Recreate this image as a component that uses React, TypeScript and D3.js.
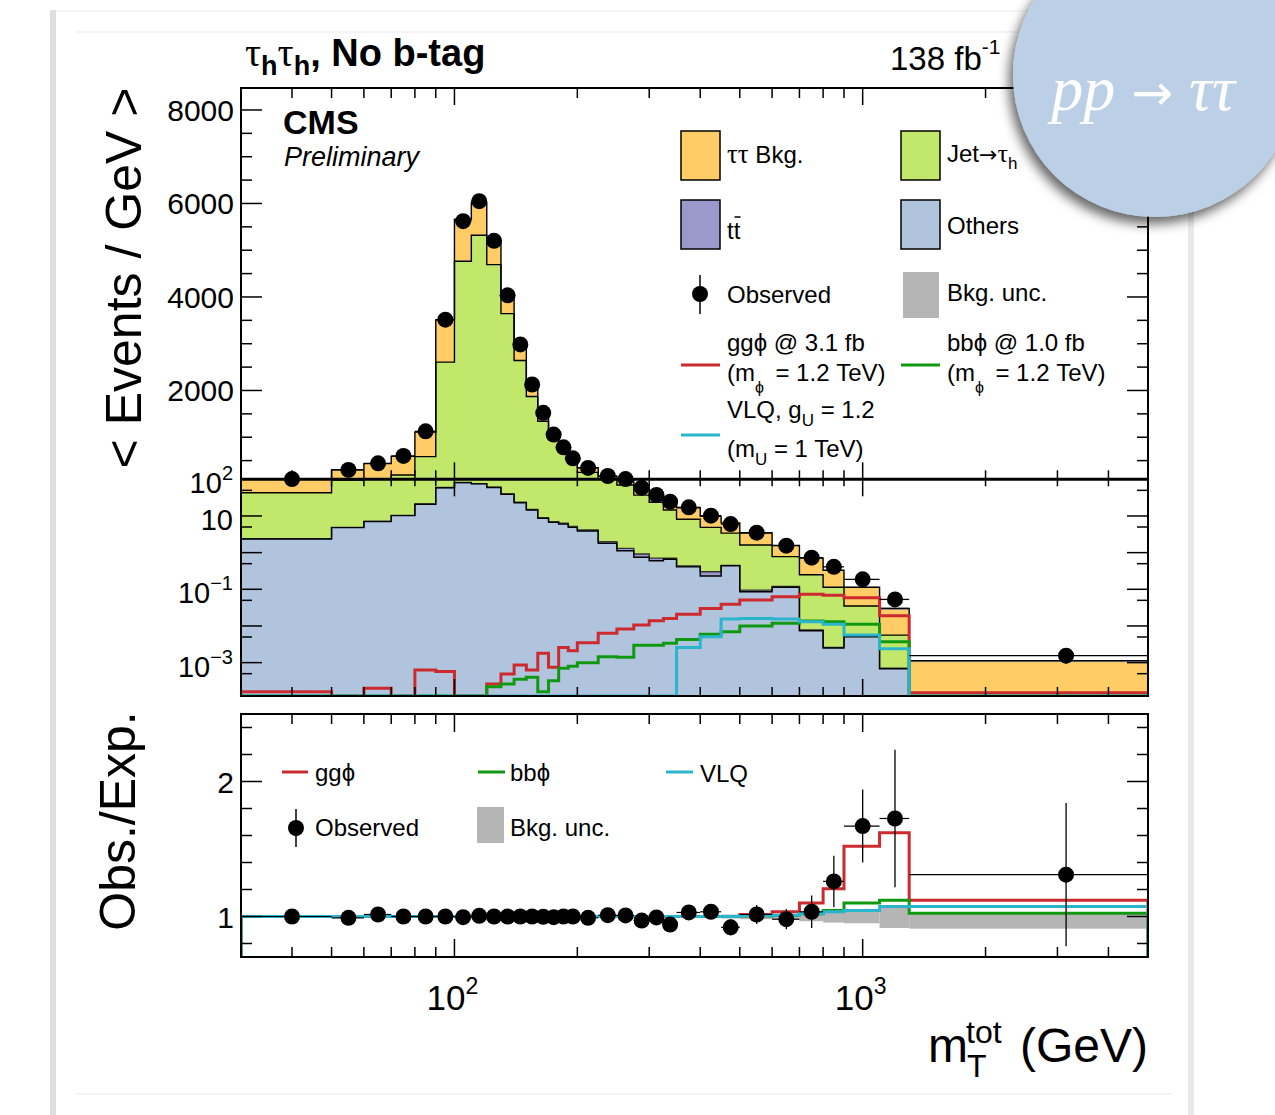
import * as d3 from 'd3';
import { useEffect, useRef } from 'react';

// bin edges of m_T^tot (GeV)
const edges = [30, 50, 60, 70, 80, 90, 100, 110, 120, 130, 140, 150, 160, 170, 180, 190, 200, 225, 250, 275, 300, 325, 350, 400, 450, 500, 600, 700, 800, 900, 1100, 1300, 5000];

// backgrounds, events / GeV (stacked bottom -> top: others, ttbar, jet fakes, tautau)
const others = [2.36, 4.8, 7.0, 10.2, 20.8, 59, 81, 75, 60, 39, 23, 14.5, 8.6, 6.7, 6.0, 4.9, 3.9, 1.8, 1.13, 0.75, 0.6, 0.66, 0.41, 0.23, 0.44, 0.086, 0.114, 0.0074, 0.0025, 0.0051, 0.00068, 0];
const ttbar = [0.05, 0.1, 0.15, 0.2, 0.4, 0.8, 1.0, 1.0, 0.9, 0.8, 0.6, 0.5, 0.4, 0.3, 0.3, 0.3, 0.25, 0.19, 0.18, 0.17, 0.11, 0.04, 0.02, 0.07, 0.01, 0.009, 0.006, 0.0004, 0.0001, 0.0003, 0.00003, 0];
const jetFakes = [40.6, 90.1, 102.9, 182.6, 563.8, 2546, 4682, 5245, 4632, 3603, 2618, 1856, 1333, 963, 694, 458, 245, 108, 68.7, 36.1, 22.9, 13.8, 7.67, 4.6, 2.95, 1.52, 0.66, 0.242, 0.111, 0.0296, 0.0049, 0];
const tautau = [62, 210, 325, 397, 525, 904, 894, 693, 500, 393, 322, 257, 158, 90, 84, 86, 100, 56, 33, 24, 14.4, 11.5, 8.7, 4.9, 3.1, 1.83, 0.8, 0.46, 0.216, 0.079, 0.0244, 0.00113];

// signals, events / GeV
const sigGg = [1.6e-4, 0, 2.0e-4, 0, 6.3e-4, 5.7e-4, 0, 0, 2.6e-4, 4.9e-4, 8.6e-4, 6.3e-4, 0.0018, 7.5e-4, 0.0026, 0.0021, 0.0035, 0.0063, 0.0083, 0.0107, 0.0139, 0.016, 0.021, 0.03, 0.039, 0.051, 0.063, 0.073, 0.069, 0.059, 0.019, 1.5e-4];
const sigBb = [0, 0, 0, 0, 0, 0, 0, 0, 2.2e-4, 2.6e-4, 3.5e-4, 4.0e-4, 1.6e-4, 3.2e-4, 7e-4, 8e-4, 0.001, 0.00145, 0.0014, 0.003, 0.003, 0.0034, 0.0043, 0.0059, 0.007, 0.01, 0.0118, 0.0136, 0.013, 0.0112, 0.0037, 0];
const sigVlq = [0, 0, 0, 0, 0, 0, 0, 0, 0, 0, 0, 0, 0, 0, 0, 0, 0, 0, 0, 0, 0, 0, 0.0026, 0.0051, 0.0155, 0.016, 0.0155, 0.0131, 0.0112, 0.0057, 0.0024, 0];

// observed
const observed = [105, 300, 441, 600, 1127, 3515, 5621, 6050, 5200, 4036, 2985, 2128, 1522, 1056, 784, 549, 343, 170, 105, 59, 37.3, 24.5, 17.2, 10.2, 6.0, 3.5, 1.55, 0.73, 0.41, 0.187, 0.053, 0.00155];

// ratio panel
const ratioObs = [1.0, 0.99, 1.015, 1.0, 1.0, 1.0, 0.995, 1.005, 1.0, 1.0, 1.0, 1.0, 0.998, 0.995, 1.0, 1.0, 0.99, 1.01, 1.008, 0.97, 0.993, 0.94, 1.03, 1.035, 0.92, 1.015, 0.98, 1.035, 1.26, 1.67, 1.726, 1.31];
const ratioErr = [0.01, 0.01, 0.01, 0.008, 0.006, 0.004, 0.003, 0.003, 0.003, 0.004, 0.004, 0.005, 0.006, 0.007, 0.008, 0.01, 0.01, 0.015, 0.02, 0.025, 0.03, 0.035, 0.04, 0.05, 0.06, 0.07, 0.075, 0.12, 0.19, 0.27, 0.51, 0.53];
const ratioGg = [1, 1, 1, 1, 1, 1, 1, 1, 1, 1, 1, 1, 1, 1, 1, 1, 1, 1, 1, 1, 1, 1, 1, 1, 1, 1.015, 1.035, 1.1, 1.205, 1.52, 1.62, 1.12];
const ratioBb = [1, 1, 1, 1, 1, 1, 1, 1, 1, 1, 1, 1, 1, 1, 1, 1, 1, 1, 1, 1, 1, 1, 1, 1, 1, 1.003, 1.008, 1.02, 1.045, 1.1, 1.12, 1.025];
const ratioVlq = [1, 1, 1, 1, 1, 1, 1, 1, 1, 1, 1, 1, 1, 1, 1, 1, 1, 1, 1, 1, 1, 1, 1, 1, 1, 1.005, 1.01, 1.02, 1.035, 1.045, 1.075, 1.075];
const uncLo = [0.995, 0.995, 0.995, 0.995, 0.995, 0.995, 0.995, 0.995, 0.995, 0.995, 0.995, 0.995, 0.995, 0.995, 0.995, 0.995, 0.99, 0.99, 0.99, 0.99, 0.99, 0.99, 0.99, 0.99, 0.985, 0.98, 0.975, 0.965, 0.955, 0.95, 0.915, 0.91];
const uncHi = [1.005, 1.005, 1.005, 1.005, 1.005, 1.005, 1.005, 1.005, 1.005, 1.005, 1.005, 1.005, 1.005, 1.005, 1.005, 1.005, 1.01, 1.01, 1.01, 1.01, 1.01, 1.01, 1.01, 1.01, 1.015, 1.02, 1.02, 1.03, 1.035, 1.04, 1.075, 1.03];

// ticks
const xMajor = [100, 1000];
const xMinor = [40, 50, 60, 70, 80, 90, 200, 300, 400, 500, 600, 700, 800, 900, 2000, 3000, 4000];
const linMajor = [2000, 4000, 6000, 8000];
const linMinor = [500, 1000, 1500, 2500, 3000, 3500, 4500, 5000, 5500, 6500, 7000, 7500];
const logMajor = [0.001, 0.01, 0.1, 1, 10, 100];
const logMinor = [5e-4, 5e-3, 5e-2, 0.5, 5, 50];
const logLabels = [
  { v: 100, base: '10', exp: '2' },
  { v: 10, base: '10', exp: '' },
  { v: 0.1, base: '10', exp: '\u22121' },
  { v: 0.001, base: '10', exp: '\u22123' },
];
const ratMajor = [1, 2];
const ratMinor = [0.8, 1.2, 1.4, 1.6, 1.8, 2.2, 2.4];

const SANS = "'Liberation Sans', Arial, Helvetica, sans-serif";
const SERIF = "'Liberation Serif', 'Times New Roman', serif";
const ARROW = "'DejaVu Sans', sans-serif";

const C_TT = '#ffcc66';
const C_JET = '#c1e86b';
const C_TOP = '#9b98cc';
const C_OTH = '#b0c4de';
const C_UNC = '#b5b5b5';
const C_GG = '#cc2a2e';
const C_BB = '#109910';
const C_VLQ = '#2bb5cc';

export default function App() {
  const ref = useRef<SVGSVGElement | null>(null);

  useEffect(() => {
    if (!ref.current) return;
    const svg = d3.select(ref.current);
    svg.selectAll('*').remove();

    const x = d3.scaleLog().domain([30, 5000]).range([241, 1148]);
    const yLin = d3.scaleLinear().domain([100, 8470]).range([479.3, 88]);
    const yLog = d3.scaleLog().domain([1.23e-4, 100]).range([696, 479.3]).clamp(true);
    const yTop = (v: number) => (v >= 100 ? yLin(v) : yLog(Math.max(v, 1e-8)));
    const yRat = d3.scaleLinear().domain([0.7, 2.5]).range([957, 714]);

    const step = d3.line<[number, number]>().x(d => d[0]).y(d => d[1]).curve(d3.curveStepAfter);
    const stepPts = (vals: number[], yf: (v: number) => number, base: number) => {
      const pts: [number, number][] = [[x(edges[0]), base]];
      vals.forEach((v, i) => pts.push([x(edges[i]), yf(v)]));
      pts.push([x(edges[edges.length - 1]), base]);
      return pts;
    };
    const centers = edges.slice(0, -1).map((e, i) => (e + edges[i + 1]) / 2);

    // page card
    svg.append('rect').attr('width', 1275).attr('height', 1115).attr('fill', '#fff');
    svg.append('rect').attr('x', 50).attr('y', 10).attr('width', 6).attr('height', 1105).attr('fill', '#dedede');
    svg.append('rect').attr('x', 1188).attr('y', 0).attr('width', 6).attr('height', 1115).attr('fill', '#e9e9e9');
    svg.append('line').attr('x1', 56).attr('x2', 1188).attr('y1', 11).attr('y2', 11).attr('stroke', '#eeeeee');
    svg.append('line').attr('x1', 75).attr('x2', 1172).attr('y1', 32).attr('y2', 32).attr('stroke', '#f0f0f0').attr('stroke-width', 1.5);
    svg.append('line').attr('x1', 75).attr('x2', 1172).attr('y1', 1094).attr('y2', 1094).attr('stroke', '#f0f0f0').attr('stroke-width', 1.5);

    const defs = svg.append('defs');
    defs.append('clipPath').attr('id', 'clipUp').append('rect')
      .attr('x', 241).attr('y', 88).attr('width', 907).attr('height', 608);
    defs.append('clipPath').attr('id', 'clipRat').append('rect')
      .attr('x', 241).attr('y', 714).attr('width', 907).attr('height', 243);
    const filt = defs.append('filter').attr('id', 'shadow').attr('x', '-30%').attr('y', '-30%').attr('width', '160%').attr('height', '160%');
    filt.append('feDropShadow').attr('dx', -4).attr('dy', 7).attr('stdDeviation', 6)
      .attr('flood-color', '#000').attr('flood-opacity', 0.6);

    // ---------- upper panel ----------
    const up = svg.append('g').attr('clip-path', 'url(#clipUp)');
    const c1 = others;
    const c2 = c1.map((v, i) => v + ttbar[i]);
    const c3 = c2.map((v, i) => v + jetFakes[i]);
    const c4 = c3.map((v, i) => v + tautau[i]);

    [
      { vals: c4, fill: C_TT },
      { vals: c3, fill: C_JET },
      { vals: c2, fill: C_TOP },
      { vals: c1, fill: C_OTH },
    ].forEach(l => {
      up.append('path')
        .attr('d', step(stepPts(l.vals, yTop, 696)) + 'Z')
        .attr('fill', l.fill);
    });

    // bkg uncertainty
    c4.forEach((v, i) => {
      if (v <= 0) return;
      const y0 = yTop(v * uncHi[i]);
      const y1 = yTop(v * uncLo[i]);
      up.append('rect')
        .attr('x', x(edges[i])).attr('width', x(edges[i + 1]) - x(edges[i]))
        .attr('y', y0).attr('height', Math.max(0, y1 - y0))
        .attr('fill', C_UNC);
    });

    [c4, c3, c2, c1].forEach((vals, k) => {
      up.append('path')
        .attr('d', step(stepPts(vals, yTop, 696)))
        .attr('fill', 'none')
        .attr('stroke', k === 2 ? '#333' : '#000')
        .attr('stroke-width', 1.4);
    });

    [
      { vals: sigGg, c: C_GG },
      { vals: sigBb, c: C_BB },
      { vals: sigVlq, c: C_VLQ },
    ].forEach(s => {
      up.append('path')
        .attr('d', step(stepPts(s.vals, yTop, 697)))
        .attr('fill', 'none')
        .attr('stroke', s.c)
        .attr('stroke-width', 3);
    });

    // observed (upper)
    observed.forEach((v, i) => {
      const cx = x(centers[i]);
      const cy = yTop(v);
      const rel = ratioErr[i] / ratioObs[i];
      up.append('line')
        .attr('x1', x(edges[i])).attr('x2', x(edges[i + 1]))
        .attr('y1', cy).attr('y2', cy)
        .attr('stroke', '#000').attr('stroke-width', 1.3);
      up.append('line')
        .attr('x1', cx).attr('x2', cx)
        .attr('y1', yTop(v * (1 + rel))).attr('y2', yTop(v * (1 - rel)))
        .attr('stroke', '#000').attr('stroke-width', 1.3);
      up.append('circle').attr('cx', cx).attr('cy', cy).attr('r', 8).attr('fill', '#000');
    });

    // ---------- ratio panel ----------
    const rat = svg.append('g').attr('clip-path', 'url(#clipRat)');
    uncLo.forEach((lo, i) => {
      rat.append('rect')
        .attr('x', x(edges[i])).attr('width', x(edges[i + 1]) - x(edges[i]))
        .attr('y', yRat(uncHi[i])).attr('height', yRat(lo) - yRat(uncHi[i]))
        .attr('fill', C_UNC);
    });
    [
      { vals: ratioGg, c: C_GG },
      { vals: ratioBb, c: C_BB },
      { vals: ratioVlq, c: C_VLQ },
    ].forEach(s => {
      rat.append('path')
        .attr('d', step(stepPts(s.vals, yRat, 958)))
        .attr('fill', 'none')
        .attr('stroke', s.c)
        .attr('stroke-width', 3);
    });
    ratioObs.forEach((v, i) => {
      const cx = x(centers[i]);
      const cy = yRat(v);
      rat.append('line')
        .attr('x1', x(edges[i])).attr('x2', x(edges[i + 1]))
        .attr('y1', cy).attr('y2', cy)
        .attr('stroke', '#000').attr('stroke-width', 1.2);
      rat.append('line')
        .attr('x1', cx).attr('x2', cx)
        .attr('y1', yRat(v + ratioErr[i])).attr('y2', yRat(v - ratioErr[i]))
        .attr('stroke', '#000').attr('stroke-width', 1.3);
      rat.append('circle').attr('cx', cx).attr('cy', cy).attr('r', 8).attr('fill', '#000');
    });

    // ---------- frames & ticks ----------
    const ax = svg.append('g').attr('stroke', '#000').attr('fill', 'none');
    ax.append('rect').attr('x', 241).attr('y', 88).attr('width', 907).attr('height', 608).attr('stroke-width', 2);
    ax.append('rect').attr('x', 241).attr('y', 714).attr('width', 907).attr('height', 243).attr('stroke-width', 2);
    ax.append('line').attr('x1', 241).attr('x2', 1148).attr('y1', 479.3).attr('y2', 479.3).attr('stroke-width', 3);

    const xTicks = (y0: number, dir: number, maj: number, min: number) => {
      xMajor.forEach(v => ax.append('line').attr('x1', x(v)).attr('x2', x(v)).attr('y1', y0).attr('y2', y0 + dir * maj).attr('stroke-width', 1.5));
      xMinor.forEach(v => ax.append('line').attr('x1', x(v)).attr('x2', x(v)).attr('y1', y0).attr('y2', y0 + dir * min).attr('stroke-width', 1.5));
    };
    xTicks(88, 1, 17, 10);
    xTicks(479.3, -1, 17, 9);
    xTicks(479.3, 1, 17, 7);
    xTicks(696, -1, 17, 9);
    xTicks(714, 1, 18, 10);
    xTicks(957, -1, 18, 10);

    const yTicks = (vals: number[], yf: (v: number) => number, len: number) => {
      vals.forEach(v => {
        const yy = yf(v);
        ax.append('line').attr('x1', 241).attr('x2', 241 + len).attr('y1', yy).attr('y2', yy).attr('stroke-width', 1.5);
        ax.append('line').attr('x1', 1148).attr('x2', 1148 - len).attr('y1', yy).attr('y2', yy).attr('stroke-width', 1.5);
      });
    };
    yTicks(linMajor, yLin, 21);
    yTicks(linMinor, yLin, 11);
    yTicks(logMajor.filter(v => v < 100), yLog, 21);
    yTicks(logMinor, yLog, 11);
    yTicks(ratMajor, yRat, 21);
    yTicks(ratMinor, yRat, 11);

    // ---------- tick labels ----------
    const txt = svg.append('g').attr('font-family', SANS).attr('fill', '#000');
    linMajor.forEach(v => {
      txt.append('text').attr('x', 234).attr('y', yLin(v) + 11).attr('text-anchor', 'end')
        .attr('font-size', 30).text(String(v));
    });
    logLabels.forEach(l => {
      const t = txt.append('text').attr('x', 233).attr('y', yLog(l.v) + 14).attr('text-anchor', 'end').attr('font-size', 29);
      t.append('tspan').text(l.base);
      if (l.exp) t.append('tspan').attr('dy', -13).attr('font-size', 20).text(l.exp);
    });
    ratMajor.forEach(v => {
      txt.append('text').attr('x', 234).attr('y', yRat(v) + 11).attr('text-anchor', 'end')
        .attr('font-size', 30).text(String(v));
    });
    [{ v: 100, e: '2' }, { v: 1000, e: '3' }].forEach(l => {
      const t = txt.append('text').attr('x', x(l.v) - 2).attr('y', 1010).attr('text-anchor', 'middle').attr('font-size', 35);
      t.append('tspan').text('10');
      t.append('tspan').attr('dy', -16).attr('font-size', 23).text(l.e);
    });

    // axis titles
    txt.append('text').attr('transform', 'translate(141,278) rotate(-90)').attr('text-anchor', 'middle')
      .attr('font-size', 50).text('< Events / GeV >');
    txt.append('text').attr('transform', 'translate(135,821) rotate(-90)').attr('text-anchor', 'middle')
      .attr('font-size', 50).text('Obs./Exp.');
    txt.append('text').attr('x', 928).attr('y', 1062).attr('font-size', 48).text('m');
    txt.append('text').attr('x', 967).attr('y', 1077).attr('font-size', 32).text('T');
    txt.append('text').attr('x', 966).attr('y', 1043).attr('font-size', 32).text('tot');
    txt.append('text').attr('x', 1148).attr('y', 1062).attr('text-anchor', 'end').attr('font-size', 48).text('(GeV)');

    // header
    const title = txt.append('text').attr('x', 245).attr('y', 66).attr('font-size', 38).attr('font-weight', 'bold');
    title.append('tspan').attr('font-family', SERIF).attr('font-weight', 'normal').attr('font-size', 40).text('\u03c4');
    title.append('tspan').attr('dy', 9).attr('font-size', 27).text('h');
    title.append('tspan').attr('dy', -9).attr('font-family', SERIF).attr('font-weight', 'normal').attr('font-size', 40).text('\u03c4');
    title.append('tspan').attr('dy', 9).attr('font-size', 27).text('h');
    title.append('tspan').attr('dy', -9).text(', No b-tag');
    const lumi = txt.append('text').attr('x', 890).attr('y', 70).attr('font-size', 33);
    lumi.append('tspan').text('138 fb');
    lumi.append('tspan').attr('dy', -16).attr('font-size', 21).text('-1');

    txt.append('text').attr('x', 283).attr('y', 134).attr('font-size', 34).attr('font-weight', 'bold').text('CMS');
    txt.append('text').attr('x', 284).attr('y', 166).attr('font-size', 27).attr('font-style', 'italic').text('Preliminary');

    // ---------- legend (upper) ----------
    const lg = svg.append('g').attr('font-family', SANS).attr('font-size', 24);
    const box = (x0: number, y0: number, fill: string) => {
      lg.append('rect').attr('x', x0).attr('y', y0).attr('width', 39).attr('height', 49)
        .attr('fill', fill).attr('stroke', '#000').attr('stroke-width', 1.5);
    };
    box(681, 131, C_TT);
    box(901, 131, C_JET);
    box(681, 200, C_TOP);
    box(901, 200, C_OTH);
    lg.append('rect').attr('x', 903).attr('y', 272).attr('width', 36).attr('height', 46).attr('fill', C_UNC);

    const t1 = lg.append('text').attr('x', 727).attr('y', 163);
    t1.append('tspan').attr('font-family', SERIF).attr('font-size', 27).text('\u03c4\u03c4');
    t1.append('tspan').text(' Bkg.');
    const t2 = lg.append('text').attr('x', 947).attr('y', 162);
    t2.append('tspan').text('Jet');
    t2.append('tspan').attr('font-family', ARROW).attr('font-size', 22).text('\u2192');
    t2.append('tspan').attr('font-family', SERIF).attr('font-size', 26).text('\u03c4');
    t2.append('tspan').attr('dy', 7).attr('font-size', 17).text('h');
    lg.append('text').attr('x', 727).attr('y', 239).text('tt');
    lg.append('line').attr('x1', 734.5).attr('x2', 740.5).attr('y1', 217).attr('y2', 217).attr('stroke', '#000').attr('stroke-width', 1.5);
    lg.append('text').attr('x', 947).attr('y', 234).text('Others');
    lg.append('line').attr('x1', 700).attr('x2', 700).attr('y1', 275).attr('y2', 314).attr('stroke', '#000').attr('stroke-width', 1.5);
    lg.append('circle').attr('cx', 700).attr('cy', 294).attr('r', 8).attr('fill', '#000');
    lg.append('text').attr('x', 727).attr('y', 303).text('Observed');
    lg.append('text').attr('x', 947).attr('y', 301).text('Bkg. unc.');

    lg.append('line').attr('x1', 681).attr('x2', 720).attr('y1', 365).attr('y2', 365).attr('stroke', C_GG).attr('stroke-width', 3);
    lg.append('line').attr('x1', 901).attr('x2', 940).attr('y1', 365).attr('y2', 365).attr('stroke', C_BB).attr('stroke-width', 3);
    lg.append('line').attr('x1', 681).attr('x2', 720).attr('y1', 435).attr('y2', 435).attr('stroke', C_VLQ).attr('stroke-width', 3);

    const sigLabel = (x0: number, head: string) => {
      lg.append('text').attr('x', x0).attr('y', 351).text(head);
      const b = lg.append('text').attr('x', x0).attr('y', 381);
      b.append('tspan').text('(m');
      b.append('tspan').attr('dy', 12).attr('font-size', 16).text('\u03d5');
      b.append('tspan').attr('dy', -12).text('\u2009 = 1.2 TeV)');
    };
    sigLabel(727, 'gg\u03d5 @ 3.1 fb');
    sigLabel(947, 'bb\u03d5 @ 1.0 fb');
    const v1 = lg.append('text').attr('x', 727).attr('y', 418);
    v1.append('tspan').text('VLQ, g');
    v1.append('tspan').attr('dy', 8).attr('font-size', 17).text('U');
    v1.append('tspan').attr('dy', -8).text(' = 1.2');
    const v2 = lg.append('text').attr('x', 727).attr('y', 457);
    v2.append('tspan').text('(m');
    v2.append('tspan').attr('dy', 8).attr('font-size', 17).text('U');
    v2.append('tspan').attr('dy', -8).text(' = 1 TeV)');

    // ---------- legend (ratio) ----------
    lg.append('line').attr('x1', 282).attr('x2', 308).attr('y1', 772).attr('y2', 772).attr('stroke', C_GG).attr('stroke-width', 3);
    lg.append('line').attr('x1', 478).attr('x2', 505).attr('y1', 772).attr('y2', 772).attr('stroke', C_BB).attr('stroke-width', 3);
    lg.append('line').attr('x1', 666).attr('x2', 693).attr('y1', 772).attr('y2', 772).attr('stroke', C_VLQ).attr('stroke-width', 3);
    lg.append('text').attr('x', 315).attr('y', 781).text('gg\u03d5');
    lg.append('text').attr('x', 510).attr('y', 781).text('bb\u03d5');
    lg.append('text').attr('x', 700).attr('y', 782).text('VLQ');
    lg.append('line').attr('x1', 296).attr('x2', 296).attr('y1', 809).attr('y2', 847).attr('stroke', '#000').attr('stroke-width', 1.5);
    lg.append('circle').attr('cx', 296).attr('cy', 828).attr('r', 8).attr('fill', '#000');
    lg.append('text').attr('x', 315).attr('y', 836).text('Observed');
    lg.append('rect').attr('x', 477).attr('y', 807).attr('width', 27).attr('height', 36).attr('fill', C_UNC);
    lg.append('text').attr('x', 510).attr('y', 836).text('Bkg. unc.');

    // ---------- badge ----------
    svg.append('circle').attr('cx', 1155).attr('cy', 75).attr('r', 142)
      .attr('fill', '#bbd0e7').attr('filter', 'url(#shadow)');
    const badge = svg.append('text').attr('x', 1143).attr('y', 110).attr('text-anchor', 'middle')
      .attr('font-family', SERIF).attr('font-style', 'italic').attr('font-size', 64).attr('fill', '#fff');
    badge.append('tspan').text('pp ');
    badge.append('tspan').attr('font-family', ARROW).attr('font-style', 'normal').attr('font-size', 50).text('\u2192');
    badge.append('tspan').text(' \u03c4\u03c4');
  }, []);

  return (
    <svg
      ref={ref}
      width={1275}
      height={1115}
      style={{ position: 'absolute', left: 0, top: 0, display: 'block' }}
    />
  );
}
